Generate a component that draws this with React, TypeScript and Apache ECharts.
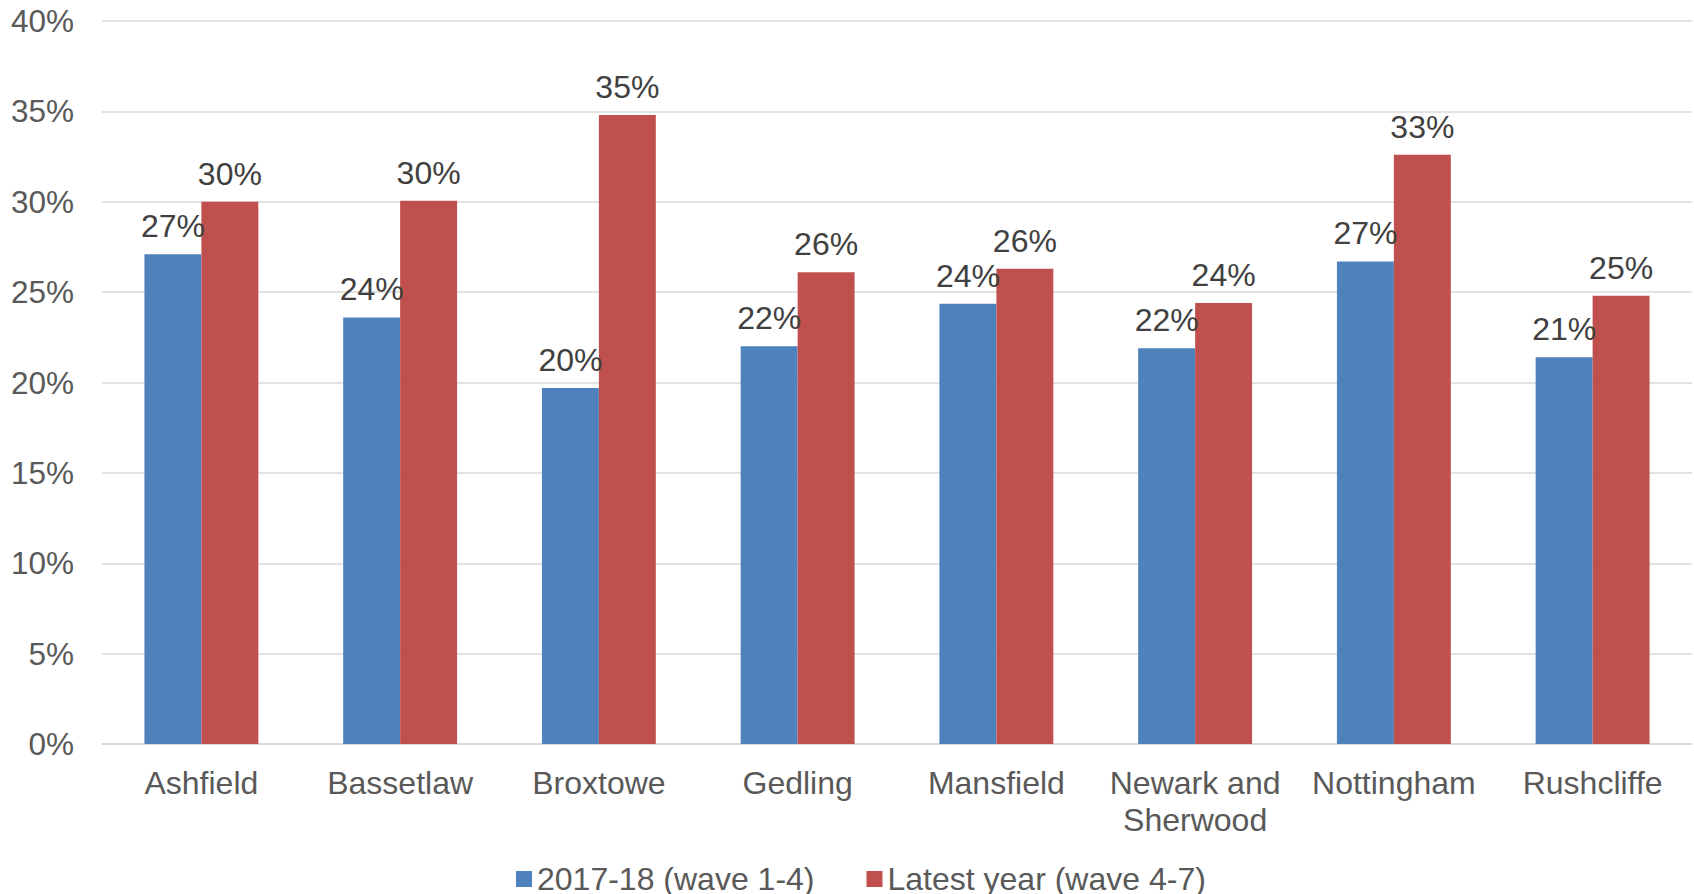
import React, { useEffect, useRef } from "react";
import * as echarts from "echarts";

const categories = ["Ashfield", "Bassetlaw", "Broxtowe", "Gedling", "Mansfield", "Newark and\nSherwood", "Nottingham", "Rushcliffe"];
const series2017 = [27.1, 23.6, 19.7, 22.0, 24.35, 21.9, 26.7, 21.4];
const seriesLatest = [30.0, 30.05, 34.8, 26.1, 26.3, 24.4, 32.6, 24.8];
const seriesNames = ["2017-18 (wave 1-4)", "Latest year (wave 4-7)"];
const FONT = "'Liberation Sans', Arial, sans-serif";

export default function App() {
  const ref = useRef<HTMLDivElement>(null);
  useEffect(() => {
    if (!ref.current) return;
    const chart = echarts.init(ref.current, null, { renderer: "svg" });
    const label = {
      show: true,
      position: "top",
      distance: 12,
      color: "#404040",
      fontSize: 32,
      fontFamily: FONT,
      formatter: (p: any) => Math.round(p.value) + "%",
    };
    chart.setOption({
      animation: false,
      backgroundColor: "#ffffff",
      textStyle: { fontFamily: FONT },
      grid: { left: 102, right: 2, top: 21, bottom: 150, containLabel: false },
      legend: {
        left: 516,
        top: 863,
        padding: 0,
        itemWidth: 16,
        itemHeight: 16,
        itemGap: 52,
        icon: "rect",
        textStyle: { color: "#595959", fontSize: 32, fontFamily: FONT, lineHeight: 26 },
        data: seriesNames,
      },
      xAxis: {
        type: "category",
        data: categories,
        axisTick: { show: false },
        axisLine: { show: true, lineStyle: { color: "#D9D9D9", width: 1.5 } },
        axisLabel: { color: "#595959", fontSize: 32, fontFamily: FONT, margin: 20, lineHeight: 37, interval: 0 },
      },
      yAxis: {
        type: "value",
        min: 0,
        max: 40,
        interval: 5,
        axisLine: { show: false },
        axisTick: { show: false },
        splitLine: { lineStyle: { color: "#D9D9D9", width: 1.5 } },
        axisLabel: { color: "#595959", fontSize: 31.5, fontFamily: FONT, margin: 28, formatter: "{value}%" },
      },
      series: [
        {
          name: seriesNames[0],
          type: "bar",
          data: series2017,
          itemStyle: { color: "#4F81BD" },
          barGap: "0%",
          barCategoryGap: "42.7%",
          label,
        },
        {
          name: seriesNames[1],
          type: "bar",
          data: seriesLatest,
          itemStyle: { color: "#C0504D" },
          barGap: "0%",
          barCategoryGap: "42.7%",
          label,
        },
      ],
    });
    return () => chart.dispose();
  }, []);
  return (
    <div
      ref={ref}
      style={{ position: "fixed", left: 0, top: 0, width: 1694, height: 894, background: "#fff" }}
    />
  );
}
